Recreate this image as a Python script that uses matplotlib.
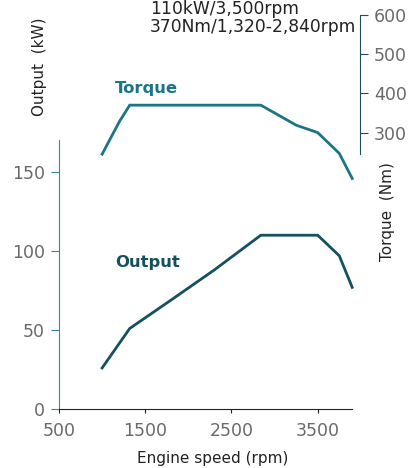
import matplotlib
matplotlib.use("Agg")
import matplotlib.pyplot as plt

# engine speed (rpm)
torque_rpm = [1000, 1200, 1320, 2840, 3250, 3500, 3750, 3900]
torque_nm = [245, 328, 370, 370, 319, 300, 247, 183]

output_rpm = [1000, 1320, 1800, 2300, 2840, 3500, 3750, 3900]
output_kw = [26, 51, 69, 88, 110, 110, 97, 77]

x_ticks = [500, 1500, 2500, 3500]
kw_ticks = [0, 50, 100, 150]
nm_ticks = [300, 400, 500, 600]

torque_col = "#1b7585"
output_col = "#15505e"
grey = "#6a6a6a"

plt.rcParams['font.family'] = ['DejaVu Sans']

fig = plt.figure(figsize=(4.10, 4.68), dpi=100)
ax = fig.add_axes([0.1439, 0.126, 0.878 - 0.1439, 0.968 - 0.126])
ax2 = ax.twinx()

ax.plot(output_rpm, output_kw, color=output_col, lw=2.0, solid_joinstyle='miter')
ax2.plot(torque_rpm, torque_nm, color=torque_col, lw=2.0, solid_joinstyle='miter')

ax.set_xlim(500, 3990)
ax.set_ylim(0, 249.4)
ax2.set_ylim(-405, 600)

ax.set_xticks(x_ticks)
ax.set_yticks(kw_ticks)
ax2.set_yticks(nm_ticks)

for a in (ax, ax2):
    a.spines['top'].set_visible(False)
ax.spines['right'].set_visible(False)
ax2.spines['left'].set_visible(False)
ax2.spines['bottom'].set_visible(False)

ax.spines['left'].set_bounds(0, 170)
ax.spines['left'].set_color("#3f8396")
ax.spines['bottom'].set_bounds(500, 3900)
ax.spines['bottom'].set_color("#222222")
ax2.spines['right'].set_bounds(245, 600)
ax2.spines['right'].set_color("#1a4f5e")

ax.tick_params(axis='y', length=6, colors="#3f8396", labelcolor=grey, labelsize=12.5, pad=4)
ax.tick_params(axis='x', length=3, colors="#222222", labelcolor=grey, labelsize=12.5, pad=6)
ax2.tick_params(axis='y', length=6, colors="#1a4f5e", labelcolor=grey, labelsize=12.5, pad=4)

ax.text(1150, 203, "Torque", color=torque_col, fontsize=11.8, fontweight='bold', va='center')
ax.text(1150, 93, "Output", color=output_col, fontsize=11.8, fontweight='bold', va='center')

fig.text(40 / 410, 1 - 67 / 468, "Output  (kW)", rotation=90, ha='center', va='center',
         fontsize=11, color="#222222")
fig.text(388 / 410, 1 - 212 / 468, "Torque  (Nm)", rotation=90, ha='center', va='center',
         fontsize=11, color="#222222")
fig.text(213 / 410, 1 - 458 / 468, "Engine speed (rpm)", ha='center', va='center',
         fontsize=11, color="#222222")
fig.text(150 / 410, 1 - 9 / 468, "110kW/3,500rpm", ha='left', va='center',
         fontsize=12.3, color="#222222")
fig.text(150 / 410, 1 - 27 / 468, "370Nm/1,320-2,840rpm", ha='left', va='center',
         fontsize=12.3, color="#222222")

fig.savefig("out.png", dpi=100)
